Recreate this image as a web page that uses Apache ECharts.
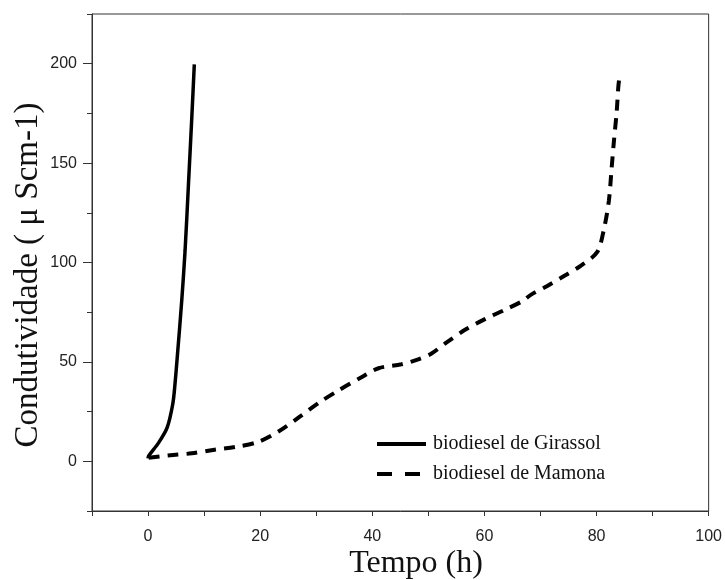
<!DOCTYPE html>
<html>
<head>
<meta charset="utf-8">
<script src="https://cdn.jsdelivr.net/npm/echarts@6/dist/echarts.min.js"></script>
<style>html,body{margin:0;padding:0;background:#fff;}#c{width:725px;height:580px;}</style>
</head>
<body>
<div id="c"></div>
<script>
var girassolX = [0, 0.1, 1.9, 3.4, 4.4, 4.8, 5.3, 6.0, 6.6, 7.2, 7.8, 8.25];
var girassolY = [1.5, 2.7, 9.4, 16.9, 28.7, 38.7, 55.5, 80.6, 105.8, 139, 172.8, 199.7];
var mamonaX = [0.1, 4.5, 7.8, 11.6, 15.5, 19.6, 23.4, 27, 30.5, 34, 37.9, 41.1, 45.2, 48.2, 50.5, 53.2, 56.7, 60, 63.5, 66.8, 68.2, 71.2, 74.2, 77.1, 80.1, 81.3, 82.2, 82.7, 83.1, 83.6, 83.9, 84.2];
var mamonaY = [1.8, 3.2, 4, 5.7, 7.2, 9.7, 15.2, 22.3, 29.5, 35.7, 42, 46.8, 48.8, 51.3, 54.1, 59.7, 66.4, 71.4, 76, 80.6, 83.6, 88.2, 93.2, 98.2, 105.2, 116.5, 131, 147.7, 161, 176, 188.8, 195.5];
var seriesNames = ['biodiesel de Girassol', 'biodiesel de Mamona'];
var xTitle = 'Tempo (h)';
var yTitle = 'Condutividade ( μ Scm-1)';
var xLabelValues = [0, 20, 40, 60, 80, 100];
var yLabelValues = [0, 50, 100, 150, 200];
var yMinorValues = [-25, 25, 75, 125, 175, 225];

function pairs(xs, ys) { return xs.map(function (x, i) { return [x, ys[i]]; }); }

var chart = echarts.init(document.getElementById('c'));
var tickLabel = { fontFamily: 'Liberation Sans', fontSize: 16, color: '#222' };
chart.setOption({
  animation: false,
  backgroundColor: '#fff',
  grid: { left: 92, right: 15, top: 14, bottom: 69, show: true, borderColor: '#333', borderWidth: 1 },
  legend: {
    orient: 'vertical', left: 375, top: 434, padding: 0, itemWidth: 49, itemHeight: 14, itemGap: 10,
    itemStyle: { opacity: 0 },
    textStyle: { fontFamily: 'Liberation Serif', fontSize: 20, color: '#111', padding: [0, 0, 0, 2] },
    data: [
      { name: seriesNames[0], lineStyle: { width: 4, type: 'solid' } },
      { name: seriesNames[1], lineStyle: { width: 4, type: [15, 13] } }
    ]
  },
  graphic: [
    { type: 'text', x: 416, y: 564, style: { text: xTitle, font: '32px "Liberation Serif"', fill: '#111', align: 'center', verticalAlign: 'middle' } },
    { type: 'text', x: 28, y: 275, rotation: Math.PI / 2, style: { text: yTitle, font: '33px "Liberation Serif"', fill: '#111', align: 'center', verticalAlign: 'middle' } }
  ],
  xAxis: {
    type: 'value', min: -10, max: 100, interval: 10,
    axisLine: { onZero: false, lineStyle: { color: '#333', width: 1 } },
    axisTick: { length: 5, lineStyle: { color: '#333' } },
    axisLabel: Object.assign({ margin: 18, customValues: xLabelValues }, tickLabel),
    splitLine: { show: false }
  },
  yAxis: [{
    type: 'value', min: -25, max: 225, interval: 25,
    axisLine: { show: true, onZero: false, lineStyle: { color: '#333', width: 1 } },
    axisTick: { length: 9, customValues: yLabelValues, lineStyle: { color: '#333' } },
    axisLabel: Object.assign({ margin: 15, customValues: yLabelValues }, tickLabel),
    splitLine: { show: false }
  }, {
    type: 'value', min: -25, max: 225, interval: 25, position: 'left',
    axisLine: { show: false, onZero: false },
    axisTick: { show: true, length: 5, customValues: yMinorValues, lineStyle: { color: '#333' } },
    axisLabel: { show: false },
    splitLine: { show: false }
  }],
  series: [{
    name: seriesNames[0], type: 'line', data: pairs(girassolX, girassolY), smooth: 0.3,
    showSymbol: false, symbol: 'none', yAxisIndex: 0,
    lineStyle: { color: '#000', width: 3.5, type: 'solid' }, itemStyle: { color: '#000' }
  }, {
    name: seriesNames[1], type: 'line', data: pairs(mamonaX, mamonaY), smooth: 0.3,
    showSymbol: false, symbol: 'none', yAxisIndex: 0,
    lineStyle: { color: '#000', width: 4, type: [11, 8] }, itemStyle: { color: '#000' }
  }]
});
</script>
</body>
</html>
